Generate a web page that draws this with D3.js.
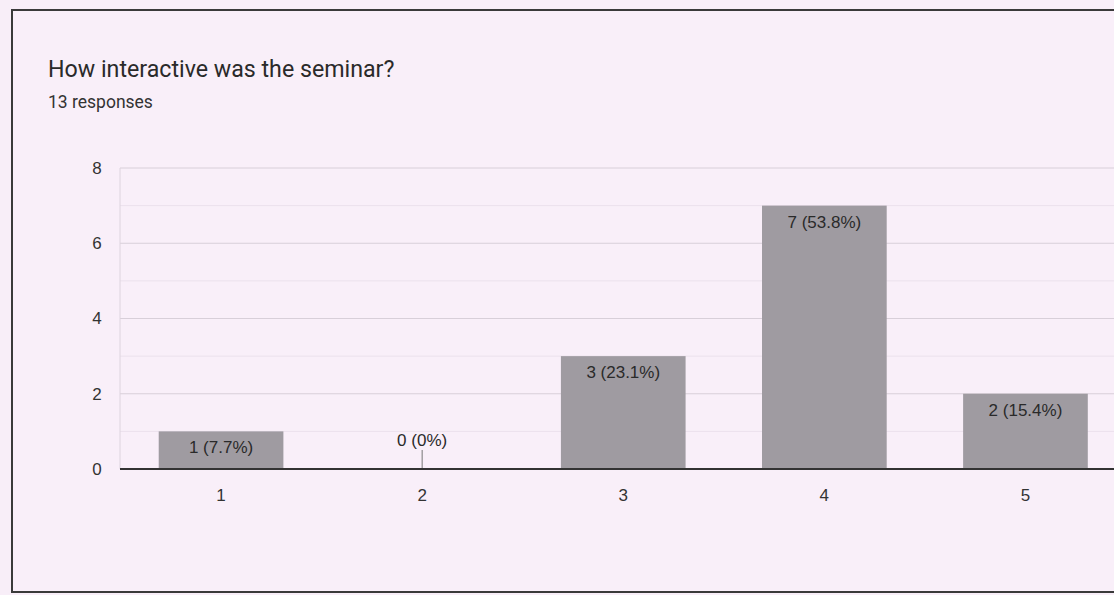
<!DOCTYPE html>
<html><head><meta charset="utf-8">
<script src="https://cdn.jsdelivr.net/npm/d3@7"></script>
<style>
html,body{margin:0;padding:0;background:#f8eef8;}
svg{display:block;}
</style></head>
<body>
<svg id="chart" width="1114" height="595"></svg>
<script>
const categories = ["1","2","3","4","5"];
const counts = [1, 0, 3, 7, 2];
const labels = ["1 (7.7%)", "0 (0%)", "3 (23.1%)", "7 (53.8%)", "2 (15.4%)"];
const yTicks = [0, 2, 4, 6, 8];
const yMinor = [1, 3, 5, 7];
const title = "How interactive was the seminar?";
const subtitle = "13 responses";

const svg = d3.select("#chart");
svg.append("rect").attr("x",0).attr("y",0).attr("width",1114).attr("height",595).attr("fill","#f8eef8");
// card
svg.append("rect").attr("x",12).attr("y",10).attr("width",1140).attr("height",582)
  .attr("fill","#f9eff9").attr("stroke","#3a3a3a").attr("stroke-width",2);

svg.append("text").attr("x",48).attr("y",77).text(title)
  .attr("font-family","Roboto, 'Noto Sans', sans-serif").attr("font-size",23.2).attr("fill","#2a2a2a");
svg.append("text").attr("x",48).attr("y",108).text(subtitle)
  .attr("font-family","Roboto, 'Noto Sans', sans-serif").attr("font-size",17.5).attr("fill","#333");

const x = d3.scaleBand().domain(categories).range([120.5, 1126]).paddingInner(0.38).paddingOuter(0.19);
const y = d3.scaleLinear().domain([0, 8]).range([469, 168]);

const g = svg.append("g");
// minor gridlines
g.selectAll(".minor").data(yMinor).join("line")
  .attr("x1",120).attr("x2",1114).attr("y1",d=>y(d)).attr("y2",d=>y(d))
  .attr("stroke","#ebe1ec").attr("stroke-width",1);
// major gridlines
g.selectAll(".major").data(yTicks.slice(1)).join("line")
  .attr("x1",120).attr("x2",1114).attr("y1",d=>y(d)).attr("y2",d=>y(d))
  .attr("stroke","#d8cfd9").attr("stroke-width",1);
// left axis faint line
g.append("line").attr("x1",120).attr("x2",120).attr("y1",y(8)).attr("y2",y(0))
  .attr("stroke","#ddd4de");

// y axis labels
const yAxis = d3.axisLeft(y).tickValues(yTicks).tickSize(0).tickPadding(23);
const ya = svg.append("g").attr("transform","translate(120,0)").call(yAxis);
ya.select(".domain").remove();
ya.selectAll("text").attr("font-family","'Liberation Sans', Arial, sans-serif").attr("font-size",17).attr("fill","#333")
  .attr("text-anchor","middle").attr("dx",0);

// bars
const data = categories.map((c,i)=>({c, v:counts[i], l:labels[i]}));
svg.selectAll(".bar").data(data.filter(d=>d.v>0)).join("rect")
  .attr("x",d=>x(d.c)).attr("width",x.bandwidth())
  .attr("y",d=>y(d.v)).attr("height",d=>y(0)-y(d.v))
  .attr("fill","#9f9ba1");

// zero tick for empty category
svg.selectAll(".zt").data(data.filter(d=>d.v===0)).join("line")
  .attr("x1",d=>x(d.c)+x.bandwidth()/2).attr("x2",d=>x(d.c)+x.bandwidth()/2)
  .attr("y1",y(0)-19).attr("y2",y(0)).attr("stroke","#777");

// labels
svg.selectAll(".lbl").data(data).join("text")
  .attr("x",d=>x(d.c)+x.bandwidth()/2)
  .attr("y",d=>d.v>0 ? y(d.v)+22 : y(0)-23)
  .attr("text-anchor","middle")
  .attr("font-family","'Liberation Sans', Arial, sans-serif").attr("font-size",17).attr("fill","#2a2a2a")
  .text(d=>d.l);

// x axis baseline
svg.append("line").attr("x1",120).attr("x2",1114).attr("y1",y(0)).attr("y2",y(0))
  .attr("stroke","#333").attr("stroke-width",2);

const xAxis = d3.axisBottom(x).tickSize(0).tickPadding(20);
const xa = svg.append("g").attr("transform",`translate(0,${y(0)})`).call(xAxis);
xa.select(".domain").remove();
xa.selectAll("text").attr("font-family","'Liberation Sans', Arial, sans-serif").attr("font-size",17).attr("fill","#333");
</script>
</body></html>
